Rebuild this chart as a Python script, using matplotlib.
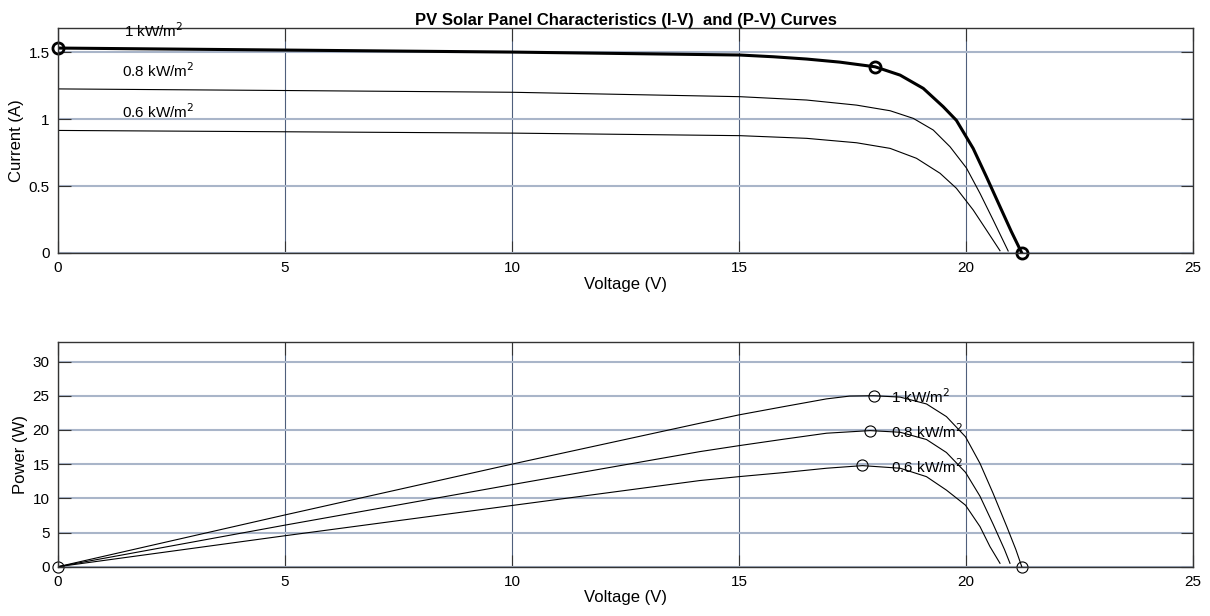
import matplotlib
matplotlib.use("Agg")
import matplotlib.pyplot as plt

plt.rcParams['font.family'] = ['Liberation Sans', 'DejaVu Sans']

# ---- I-V data ----
v_1000 = [0, 5, 10, 15.02, 15.76, 16.49, 17.22, 18.0, 18.55, 19.06, 19.5, 19.79, 20.16, 20.45, 20.75, 21.0, 21.23]
i_1000 = [1.53, 1.515, 1.50, 1.478, 1.465, 1.448, 1.425, 1.39, 1.328, 1.229, 1.092, 0.99, 0.78, 0.57, 0.346, 0.16, 0.0]

v_800 = [0, 5, 10, 15.02, 16.49, 17.59, 18.33, 18.84, 19.28, 19.65, 20.01, 20.31, 20.6, 20.93]
i_800 = [1.225, 1.213, 1.20, 1.167, 1.142, 1.104, 1.062, 1.005, 0.918, 0.793, 0.635, 0.445, 0.246, 0.015]

v_600 = [0, 5, 10, 15.02, 16.49, 17.59, 18.33, 18.91, 19.43, 19.79, 20.16, 20.45, 20.75]
i_600 = [0.915, 0.905, 0.895, 0.876, 0.856, 0.823, 0.781, 0.707, 0.595, 0.483, 0.321, 0.172, 0.017]

# ---- P-V data ----
pv_v_1000 = [0, 5, 10, 14.14, 15, 15.98, 16.93, 17.44, 17.97, 18.55, 19.13, 19.57, 19.99, 20.31, 20.6, 20.9, 21.1, 21.23]
pv_p_1000 = [0, 7.57, 15.0, 20.98, 22.2, 23.4, 24.54, 24.95, 25.0, 24.8, 23.8, 21.95, 19.0, 15.1, 10.7, 5.86, 2.5, 0.0]

pv_v_800 = [0, 5, 10, 14.14, 15, 15.98, 16.93, 17.89, 18.55, 19.13, 19.57, 19.99, 20.31, 20.6, 20.85, 20.97]
pv_p_800 = [0, 6.08, 12.0, 16.83, 17.7, 18.64, 19.52, 19.9, 19.66, 18.6, 16.7, 13.8, 10.3, 6.2, 2.5, 0.5]

pv_v_600 = [0, 5, 10, 14.14, 15, 15.98, 16.93, 17.72, 18.55, 19.13, 19.57, 19.99, 20.31, 20.53, 20.75]
pv_p_600 = [0, 4.53, 8.95, 12.6, 13.17, 13.76, 14.4, 14.78, 14.4, 13.17, 11.2, 9.0, 5.86, 2.93, 0.5]

# key points
iv_mark_v = [0, 18.0, 21.23]
iv_mark_i = [1.53, 1.39, 0.0]
pv_mark_v = [0, 17.97, 17.89, 17.72, 21.23]
pv_mark_p = [0, 25.0, 19.87, 14.8, 0.0]

labels = ['1 kW/m$^2$', '0.8 kW/m$^2$', '0.6 kW/m$^2$']
iv_label_pos = [(1.45, 1.66), (1.4, 1.36), (1.4, 1.055)]
pv_label_pos = [(18.36, 24.8), (18.36, 19.7), (18.36, 14.6)]

fig = plt.figure(figsize=(12.1, 6.16), dpi=100)
ax1 = fig.add_axes([0.0479, 0.5893, 0.938, 0.3653])
ax2 = fig.add_axes([0.0479, 0.080, 0.938, 0.3653])

def style(ax, ylim, yticks):
    ax.set_xlim(0, 25)
    ax.set_ylim(*ylim)
    ax.set_xticks([0, 5, 10, 15, 20, 25])
    ax.set_yticks(yticks)
    ax.grid(axis='x', color='#4f5f7c', lw=0.8)
    ax.grid(axis='y', color='#a9b5c9', lw=1.5)
    ax.set_axisbelow(True)
    ax.tick_params(direction='in', length=9, width=0.8, top=True, right=True,
                   labelsize=11, color='#333333', pad=6)
    for s in ax.spines.values():
        s.set_color('#333333')
        s.set_linewidth(1.0)

# top plot
ax1.plot(v_800, i_800, color='black', lw=0.8)
ax1.plot(v_600, i_600, color='black', lw=0.8)
ax1.plot(v_1000, i_1000, color='black', lw=2.2)
ax1.plot(iv_mark_v, iv_mark_i, 'o', ms=8, mfc='none', mec='black', mew=2.0, clip_on=False)
for lab, (x, y) in zip(labels, iv_label_pos):
    ax1.text(x, y, lab, fontsize=11, va='center', ha='left')
style(ax1, (0, 1.68), [0, 0.5, 1, 1.5])
ax1.set_yticklabels(['0', '0.5', '1', '1.5'])
ax1.set_xlabel('Voltage (V)', fontsize=12, labelpad=1)
ax1.set_ylabel('Current (A)', fontsize=12, labelpad=3)
ax1.set_title('PV Solar Panel Characteristics (I-V)  and (P-V) Curves',
              fontsize=12, fontweight='bold', pad=2)

# bottom plot
ax2.plot(pv_v_1000, pv_p_1000, color='black', lw=0.8)
ax2.plot(pv_v_800, pv_p_800, color='black', lw=0.8)
ax2.plot(pv_v_600, pv_p_600, color='black', lw=0.8)
ax2.plot(pv_mark_v, pv_mark_p, 'o', ms=8, mfc='none', mec='black', mew=0.8, clip_on=False)
for lab, (x, y) in zip(labels, pv_label_pos):
    ax2.text(x, y, lab, fontsize=11, va='center', ha='left')
style(ax2, (0, 32.9), [0, 5, 10, 15, 20, 25, 30])
ax2.set_xlabel('Voltage (V)', fontsize=12, labelpad=1)
ax2.set_ylabel('Power (W)', fontsize=12, labelpad=3)

fig.savefig('out.png', dpi=100, facecolor='white')
